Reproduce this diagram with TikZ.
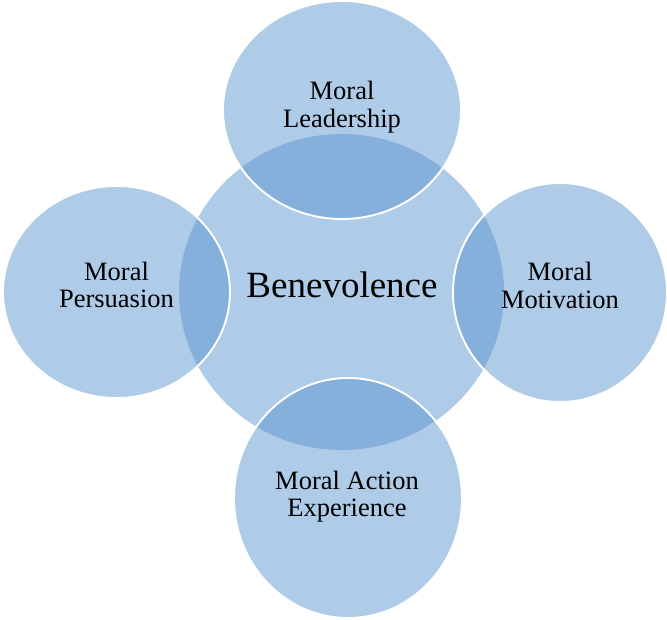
\documentclass[tikz,border=0pt]{standalone}
\usepackage{fontspec}
\setmainfont{Liberation Serif}
\usepackage{xcolor}
\usetikzlibrary{shapes.geometric}
\definecolor{paleblue}{RGB}{174,203,232}
\definecolor{midblue}{RGB}{93,151,209}

\begin{document}
\begin{tikzpicture}[%
    x=1pt,
    y=-1pt,
    hub/.style={%
      ellipse,
      fill=paleblue,
      inner sep=0pt,
      minimum width=325pt,
      minimum height=316pt
    },
    petal/.style={%
      ellipse,
      fill=midblue,
      fill opacity=0.5,
      draw=white,
      draw opacity=1,
      line width=1.9pt,
      inner sep=0pt
    },
    caption/.style={%
      align=center,
      inner sep=0pt,
      font=\fontsize{26.5}{27.5}\selectfont
    }
  ]
    \useasboundingbox (0,0) rectangle (667,620);

    \node[hub] (hub) at (341.5,292) {};
    \node[petal, minimum width=238pt, minimum height=218pt] (lead) at (342,110)   {};
    \node[petal, minimum width=227pt, minimum height=212pt] (pers) at (116.5,292) {};
    \node[petal, minimum width=214pt, minimum height=219pt] (moti) at (560,292.5) {};
    \node[petal, minimum width=228pt, minimum height=240pt] (act)  at (348,498)   {};

    % texts
    \node[caption, font=\fontsize{37}{40}\selectfont] (hubtext) at (342,284.5) {Benevolence};
    \node[caption] (leadtext) at (342,107.3) {Moral\\Leadership};
    \node[caption] (perstext) at (116.5,285) {Moral\\Persuasion};
    \node[caption] (motitext) at (560,285.5) {Moral\\Motivation};
    \node[caption] (acttext)  at (347,496.8) {Moral Action\\Experience};
  \end{tikzpicture}
\end{document}
